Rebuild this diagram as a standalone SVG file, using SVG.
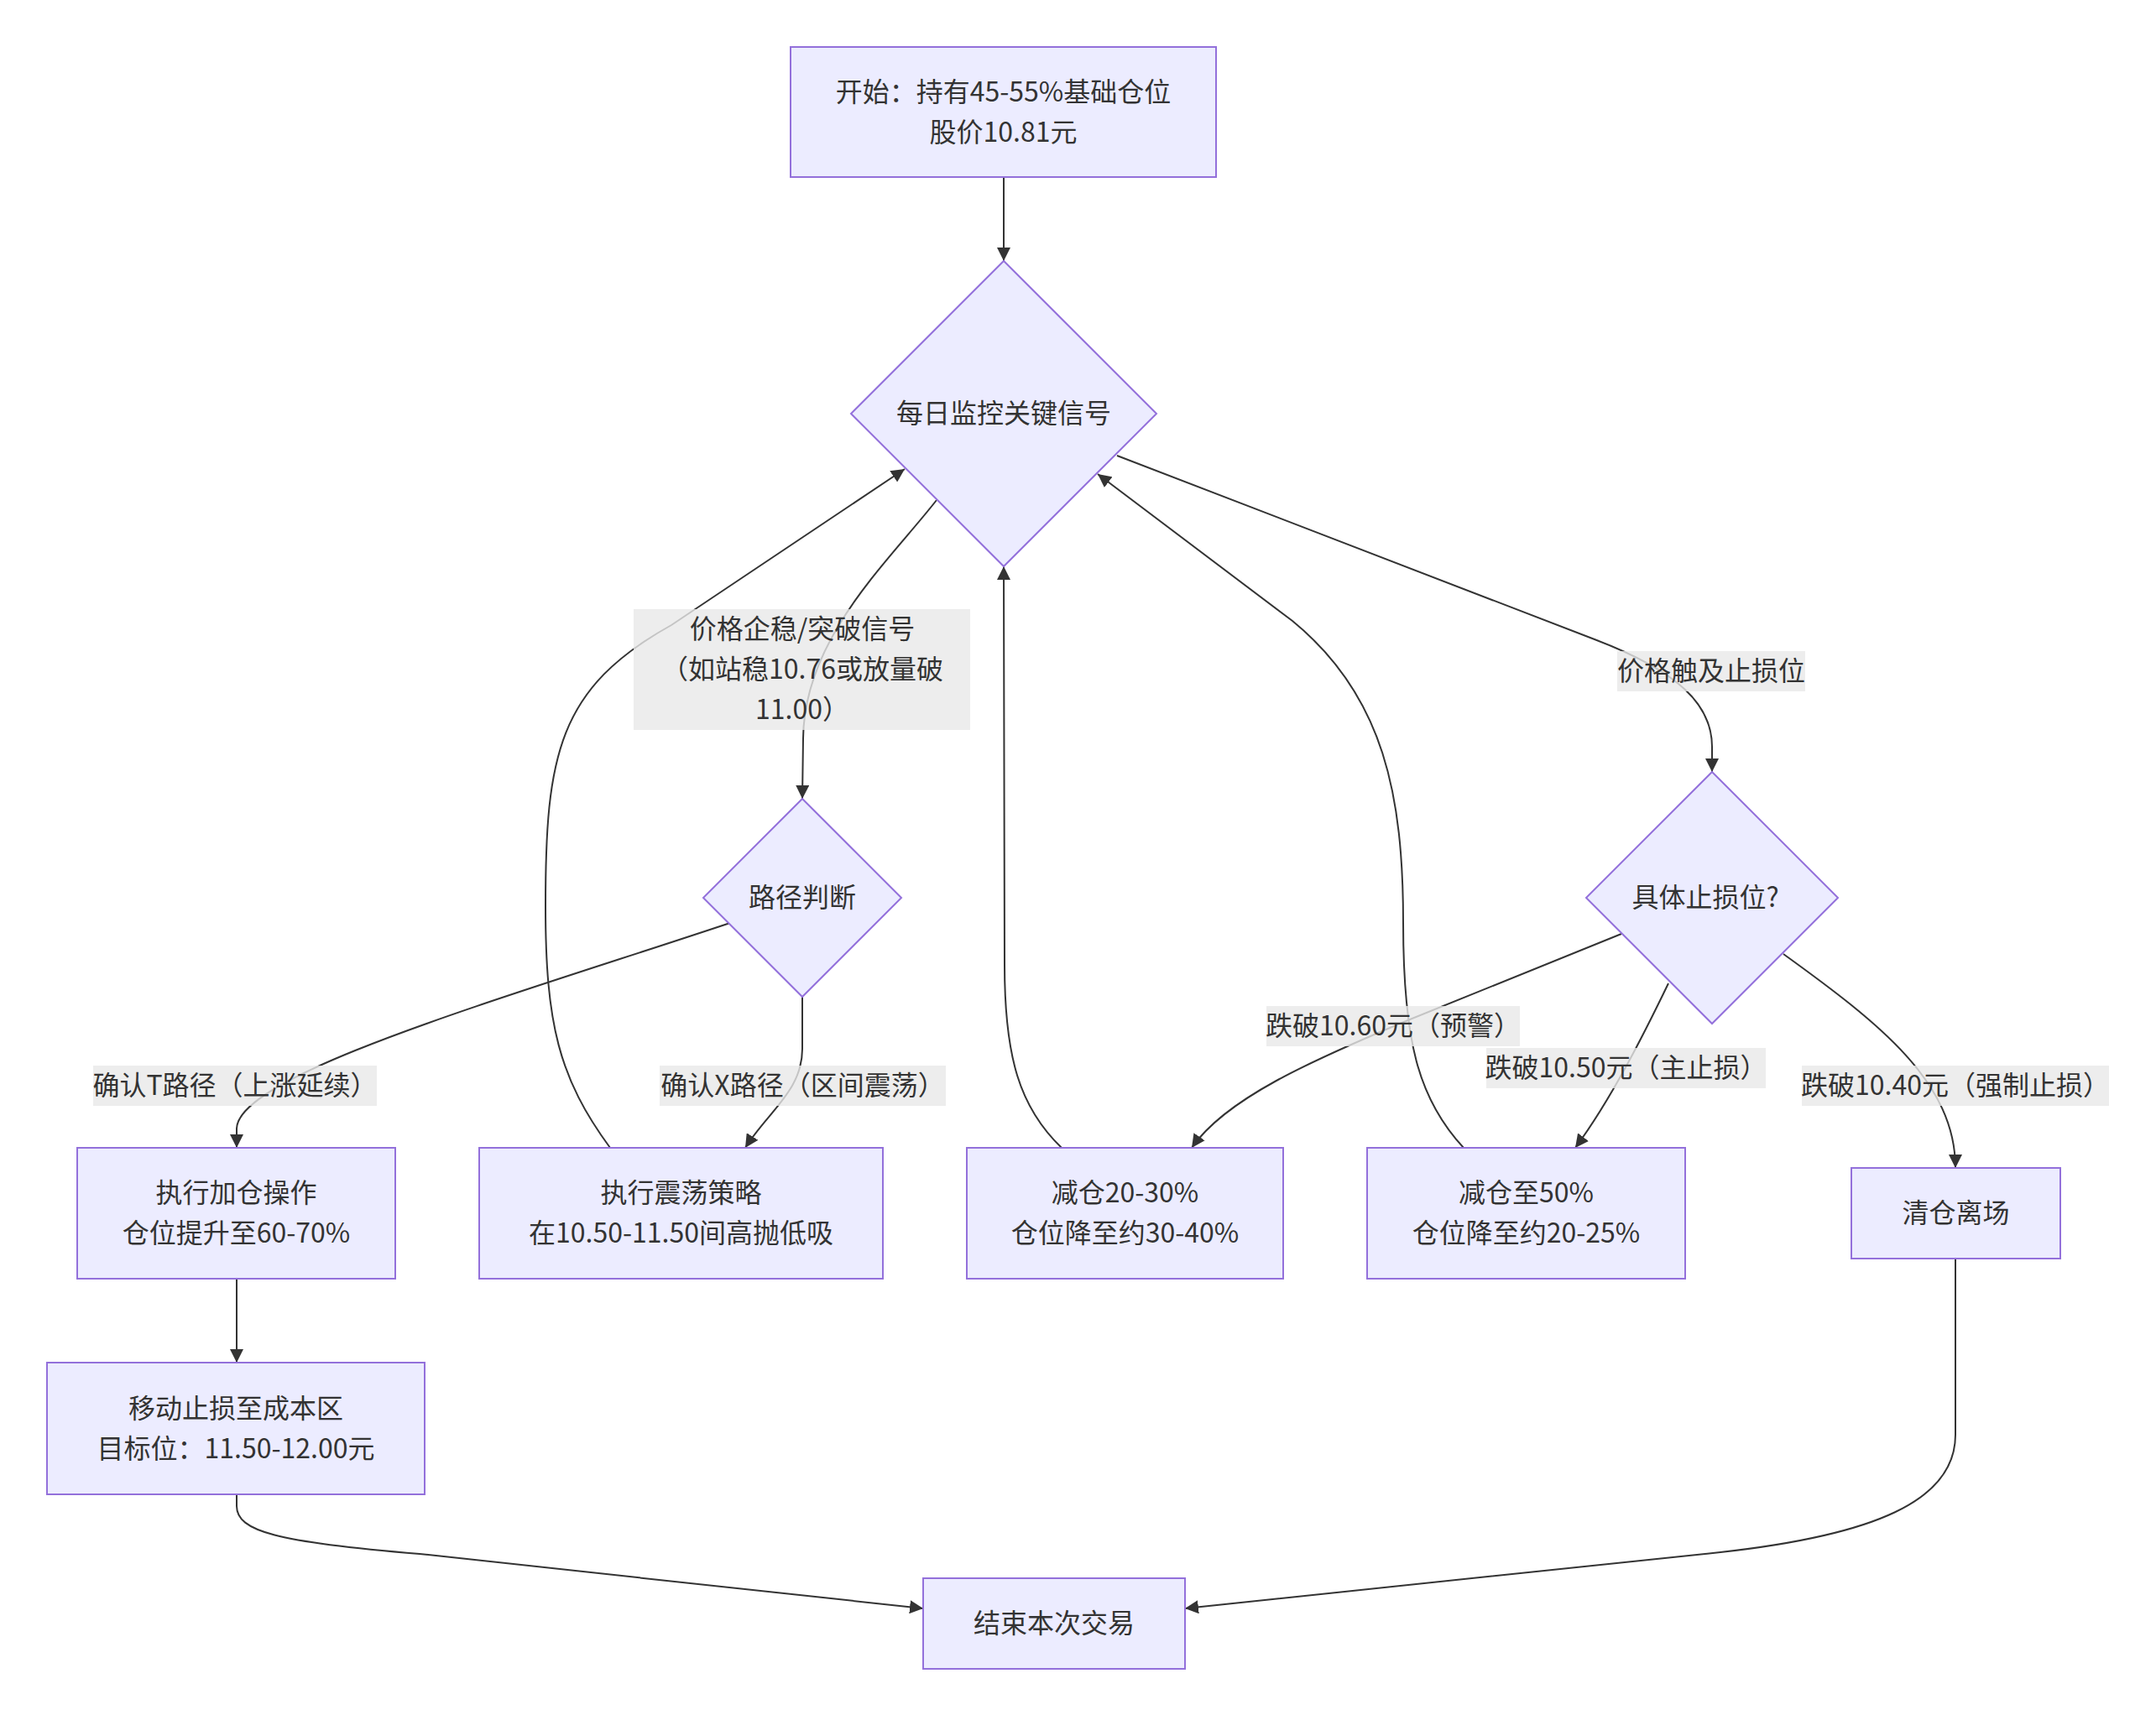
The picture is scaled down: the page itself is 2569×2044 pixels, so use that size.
<svg xmlns="http://www.w3.org/2000/svg" width="2569" height="2044" viewBox="0 0 2569 2044">
<style>
.node rect, .node polygon { fill: #ECECFF; stroke: #9370DB; stroke-width: 2; }
.node text, .label text { font-family: "Noto Sans CJK SC", "Noto Sans", sans-serif; font-size: 32px; fill: #333333; text-anchor: middle; dominant-baseline: central; }
.edge { fill: none; stroke: #333333; stroke-width: 2; }
.label rect { fill: #e8e8e8; fill-opacity: 0.8; }
</style>
<defs>
<marker id="arrow" markerUnits="userSpaceOnUse" markerWidth="16" markerHeight="16" viewBox="0 0 10 10" refX="10" refY="5" orient="auto">
<path d="M0,0 L10,5 L0,10 z" fill="#333333"/>
</marker>
</defs>
<rect width="2569" height="2044" fill="#ffffff"/>
<g id="connectors">
<path class="edge" marker-end="url(#arrow)" d="M1196,211 L1196,311"/>
<path class="edge" marker-end="url(#arrow)" d="M1116,596 C1060,668 958,760 957,880 L956,952"/>
<path class="edge" marker-end="url(#arrow)" d="M870,1100 C600,1190 284,1280 282,1345 L282,1368"/>
<path class="edge" marker-end="url(#arrow)" d="M956,1188 L956,1250 C956,1300 915,1325 888,1368"/>
<path class="edge" marker-end="url(#arrow)" d="M727,1368 C666,1285 650,1220 650,1080 C650,900 665,820 800,745 L1078,559"/>
<path class="edge" marker-end="url(#arrow)" d="M1265,1368 C1215,1320 1197,1260 1197,1150 L1196,675"/>
<path class="edge" marker-end="url(#arrow)" d="M1744,1368 C1690,1310 1672,1240 1672,1100 C1672,950 1650,830 1540,740 L1308,565"/>
<path class="edge" marker-end="url(#arrow)" d="M1331,543 L1900,762 C2000,800 2040,840 2040,890 L2040,920"/>
<path class="edge" marker-end="url(#arrow)" d="M1932,1113 L1680,1215 C1560,1265 1460,1310 1420,1368"/>
<path class="edge" marker-end="url(#arrow)" d="M1988,1172 C1960,1230 1920,1310 1877,1368"/>
<path class="edge" marker-end="url(#arrow)" d="M2125,1137 C2240,1220 2330,1290 2330,1392"/>
<path class="edge" marker-end="url(#arrow)" d="M282,1524 L282,1624"/>
<path class="edge" marker-end="url(#arrow)" d="M282,1781 L282,1795 C282,1825 330,1838 500,1852 L1100,1917"/>
<path class="edge" marker-end="url(#arrow)" d="M2330,1500 L2330,1710 C2330,1790 2230,1830 2050,1850 L1412,1917"/>
</g>
<g id="edge-labels">
<g class="label" id="label-A-B"><rect x="755" y="726" width="401" height="144"/><text x="956" y="747">价格企稳/突破信号</text><text x="956" y="795">（如站稳10.76或放量破</text><text x="956" y="843">11.00）</text></g>
<g class="label" id="label-B-T"><rect x="111" y="1270" width="338" height="48"/><text x="280" y="1291">确认T路径（上涨延续）</text></g>
<g class="label" id="label-B-X"><rect x="786" y="1270" width="341" height="48"/><text x="956.5" y="1291">确认X路径（区间震荡）</text></g>
<g class="label" id="label-A-C"><rect x="1927" y="776" width="224" height="48"/><text x="2039" y="797">价格触及止损位</text></g>
<g class="label" id="label-C-3"><rect x="1509" y="1199" width="302" height="48"/><text x="1660" y="1220">跌破10.60元（预警）</text></g>
<g class="label" id="label-C-4"><rect x="1771" y="1249" width="333" height="48"/><text x="1937.5" y="1270">跌破10.50元（主止损）</text></g>
<g class="label" id="label-C-5"><rect x="2147" y="1270" width="366" height="48"/><text x="2330" y="1291">跌破10.40元（强制止损）</text></g>
</g>
<g class="node" id="start"><rect x="942" y="56" width="507" height="155"/><text x="1195.5" y="106.5">开始：持有45-55%基础仓位</text><text x="1195.5" y="154.5">股价10.81元</text></g>
<g class="node" id="monitor"><polygon points="1196,311 1378,493 1196,675 1014,493"/><text x="1196" y="490">每日监控关键信号</text></g>
<g class="node" id="path"><polygon points="956,952 1074,1070 956,1188 838,1070"/><text x="956" y="1067">路径判断</text></g>
<g class="node" id="stoploss"><polygon points="2040,920 2190,1070 2040,1220 1890,1070"/><text x="2032" y="1067">具体止损位?</text></g>
<g class="node" id="add"><rect x="92" y="1368" width="379" height="156"/><text x="281.5" y="1419">执行加仓操作</text><text x="281.5" y="1467">仓位提升至60-70%</text></g>
<g class="node" id="range"><rect x="571" y="1368" width="481" height="156"/><text x="811.5" y="1419">执行震荡策略</text><text x="811.5" y="1467">在10.50-11.50间高抛低吸</text></g>
<g class="node" id="reduce1"><rect x="1152" y="1368" width="377" height="156"/><text x="1340.5" y="1419">减仓20-30%</text><text x="1340.5" y="1467">仓位降至约30-40%</text></g>
<g class="node" id="reduce2"><rect x="1629" y="1368" width="379" height="156"/><text x="1818.5" y="1419">减仓至50%</text><text x="1818.5" y="1467">仓位降至约20-25%</text></g>
<g class="node" id="exit"><rect x="2206" y="1392" width="249" height="108"/><text x="2330.5" y="1443">清仓离场</text></g>
<g class="node" id="trail"><rect x="56" y="1624" width="450" height="157"/><text x="281" y="1675.5">移动止损至成本区</text><text x="281" y="1723.5">目标位：11.50-12.00元</text></g>
<g class="node" id="end"><rect x="1100" y="1881" width="312" height="108"/><text x="1256" y="1932">结束本次交易</text></g>
</svg>
